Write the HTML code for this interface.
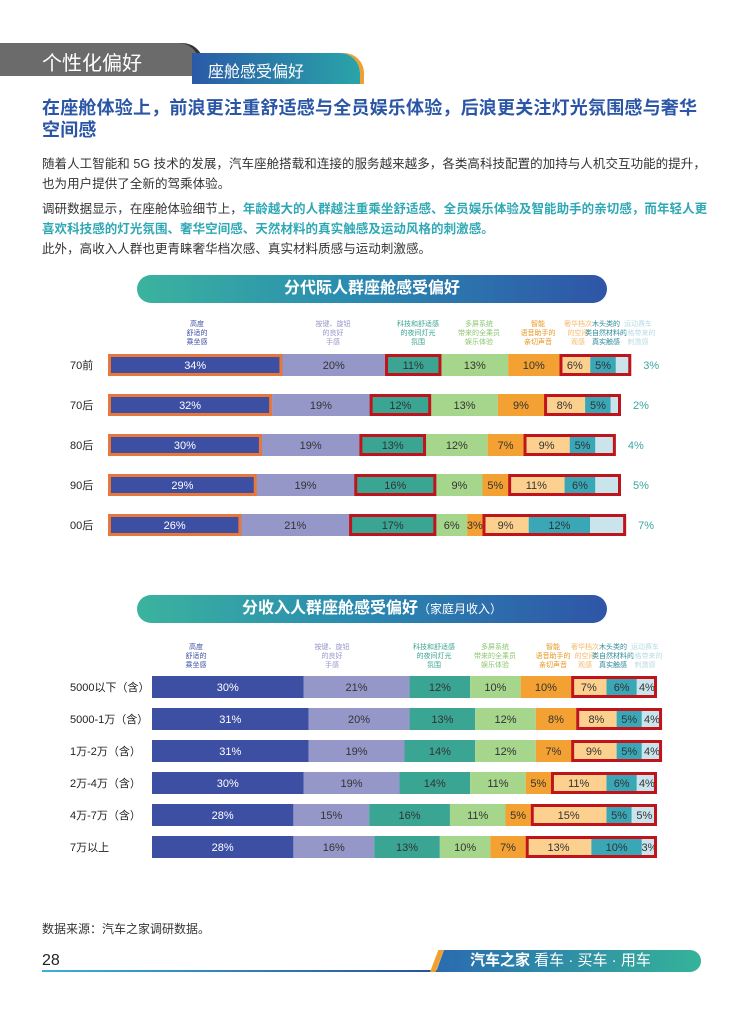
<!DOCTYPE html>
<html><head><meta charset="utf-8">
<style>
body{margin:0;width:744px;height:1009px;background:#fff;font-family:"Liberation Sans","Noto Sans CJK SC",sans-serif;position:relative;overflow:hidden}
.abs{position:absolute}
p{margin:0}
.para{position:absolute;left:42px;width:670px;font-size:12.5px;letter-spacing:0.05px;color:#333;line-height:20px}
.hl{color:#2fa8b5;font-weight:bold}
.pill{position:absolute;left:137px;width:470px;height:28px;border-radius:14px;background:linear-gradient(90deg,#3bb39e,#2a8cb0 45%,#2f55a8);color:#fff;font-size:16px;font-weight:bold;text-align:center;line-height:28px}
</style></head><body>
<div class="abs" style="left:0;top:43px;width:200px;height:33px;background:#6b6b6b;border-top-right-radius:22px;box-shadow:4px 0 0 #333"></div>
<div class="abs" style="left:42px;top:47px;font-size:20px;color:#fff">个性化偏好</div>
<div class="abs" style="left:192px;top:53px;width:168px;height:31px;background:linear-gradient(90deg,#2a5aa8,#2aa4a8);border-top-right-radius:20px;box-shadow:4px 0 0 #f0a030"></div>
<div class="abs" style="left:208px;top:58px;font-size:16px;color:#fff">座舱感受偏好</div>
<div class="abs" style="left:42px;top:97px;width:685px;font-size:18px;letter-spacing:0.2px;font-weight:bold;color:#2b56a6;line-height:22px">在座舱体验上，前浪更注重舒适感与全员娱乐体验，后浪更关注灯光氛围感与奢华<br>空间感</div>
<div class="para" style="top:154px">随着人工智能和 5G 技术的发展，汽车座舱搭载和连接的服务越来越多，各类高科技配置的加持与人机交互功能的提升，<br>也为用户提供了全新的驾乘体验。</div>
<div class="para" style="top:199px">调研数据显示，在座舱体验细节上，<span class="hl">年龄越大的人群越注重乘坐舒适感、全员娱乐体验及智能助手的亲切感，而年轻人更<br>喜欢科技感的灯光氛围、奢华空间感、天然材料的真实触感及运动风格的刺激感。</span></div>
<div class="para" style="top:239px">此外，高收入人群也更青睐奢华档次感、真实材料质感与运动刺激感。</div>
<div class="pill" style="top:275px">分代际人群座舱感受偏好</div>
<div class="pill" style="top:595px">分收入人群座舱感受偏好<span style="font-size:12px;font-weight:normal">（家庭月收入）</span></div>
<svg class="abs" style="left:0;top:0" width="744" height="1009" id="charts"></svg>
<div class="abs" style="left:42px;top:920px;font-size:12px;color:#333">数据来源：汽车之家调研数据。</div>
<div class="abs" style="left:42px;top:952px;font-size:16px;color:#222">28</div>
<div class="abs" style="left:42px;top:970px;width:400px;height:2px;background:linear-gradient(90deg,#3ab0d8,#2a4fa0)"></div>
<div class="abs" style="left:436px;top:950px;width:265px;height:22px;background:linear-gradient(90deg,#2a6bb0,#35b39a);border-radius:0 11px 11px 0;clip-path:polygon(8px 0,100% 0,100% 100%,0 100%)"></div>
<div class="abs" style="left:430px;top:950px;width:14px;height:22px;background:#f0a030;clip-path:polygon(60% 0,100% 0,40% 100%,0 100%)"></div>
<div class="abs" style="left:470px;top:951px;font-size:15px;color:#fff;line-height:20px"><b>汽车之家</b> 看车 · 买车 · 用车</div>
<script>
const labels=['高度|舒适的|乘坐感','按键、旋钮|的良好|手感','科技和舒适感|的夜间灯光|氛围','多屏系统|带来的全乘员|娱乐体验','智能|语音助手的|亲切声音','奢华档次|的空间|观感','木头类的|类自然材料的|真实触感','运动赛车|风格带来的|刺激感'];
const colors=['#3d4fa3','#9597c9','#3aa593','#a5d68b','#f2a132','#fcd08f','#3aa7b6','#c9e4eb'];
const labelColors=['#3d4fa3','#9597c9','#3aa593','#8cc56f','#e8951f','#f5b86a','#2c8a9a','#b9dbe3'];
const genCats=['70前','70后','80后','90后','00后'];
const genVals=[[34,20,11,13,10,6,5,3],[32,19,12,13,9,8,5,2],[30,19,13,12,7,9,5,4],[29,19,16,9,5,11,6,5],[26,21,17,6,3,9,12,7]];
const incCats=['5000以下（含）','5000-1万（含）','1万-2万（含）','2万-4万（含）','4万-7万（含）','7万以上'];
const incVals=[[30,21,12,10,10,7,6,4],[31,20,13,12,8,8,5,4],[31,19,14,12,7,9,5,4],[30,19,14,11,5,11,6,4],[28,15,16,11,5,15,5,5],[28,16,13,10,7,13,10,3]];
const genHeaderX=[197,333,418,479,538,578,606,638];
const incHeaderX=[196,332,434,495,553,585,613,645];
const svg=document.getElementById('charts');
const NS='http://www.w3.org/2000/svg';
function mk(tag,attrs){const e=document.createElementNS(NS,tag);for(const k in attrs)e.setAttribute(k,attrs[k]);svg.appendChild(e);return e;}
function txt(x,y,s,attrs){const t=mk('text',Object.assign({x:x,y:y,'text-anchor':'middle','font-size':11,'font-family':'"Liberation Sans","Noto Sans CJK SC",sans-serif'},attrs));t.textContent=s;return t;}
function headers(xs,y0){labels.forEach((l,i)=>{l.split('|').forEach((ln,j)=>{const t=txt(xs[i],y0+j*9,ln,{'font-size':7,fill:labelColors[i]});

});});}
function chart(cats,vals,x0,scale,yc0,gap,h,gen){
 cats.forEach((c,r)=>{
  const yc=yc0+r*gap,y=yc-h/2;
  const rl=txt(70,yc+4,c,{'text-anchor':'start','font-size':11,fill:'#222'});
  
  
  let x=x0;const xs=[];
  vals[r].forEach((v,i)=>{const w=v*scale;xs.push([x,w]);
   const b=mk('rect',{x:x,y:y,width:w,height:h,fill:colors[i]});
   
   
   if(!(gen&&i===7)){const t=txt(x+w/2,yc+4,v+'%',{fill:i===0?'#fff':'#333'});
    
    }
   x+=w;});
  if(gen){const t=txt(x+12,yc+4,vals[r][7]+'%',{'text-anchor':'start',fill:'#3aa7a0'});
   
   
   const o=mk('rect',{x:xs[0][0]+1.5,y:y+1.5,width:xs[0][1]-3,height:h-3,fill:'none',stroke:'#e9773a','stroke-width':3});
   
   
   const t3=mk('rect',{x:xs[2][0]+1.5,y:y+1.5,width:xs[2][1]-3,height:h-3,fill:'none',stroke:'#c0141c','stroke-width':3});
   
   }
  const gx=xs[5][0],gw=x-gx;
  const g=mk('rect',{x:gx+1.5,y:y+1.5,width:gw-3,height:h-3,fill:'none',stroke:'#c0141c','stroke-width':3});
  
  
 });
}
headers(genHeaderX,326);
chart(genCats,genVals,108,5.13,365,40,22,true);
headers(incHeaderX,649);
chart(incCats,incVals,152,5.05,687,32,22,false);
</script>
</body></html>
